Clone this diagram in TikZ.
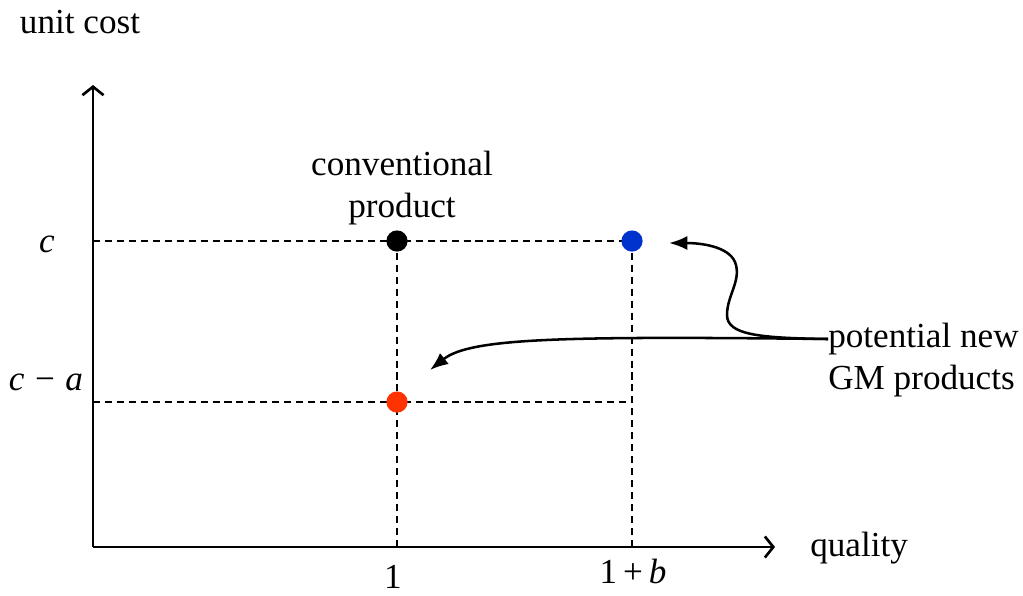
\documentclass[tikz,border=0pt]{standalone}
\usepackage{fontspec}
\setmainfont{Liberation Serif}
\usepackage{tikz}
\usetikzlibrary{arrows.meta,positioning}
\tikzstyle{dot}=[circle, inner sep=0pt, minimum size=0.53cm]
\tikzstyle{guide}=[line width=1.2pt, dash pattern=on 5pt off 3.5pt]
\tikzstyle{axis}=[line width=1.9pt, -{Straight Barb[length=6pt,width=15pt]}]
\tikzstyle{pointer}=[line width=1.8pt, -{Latex[length=13pt,width=10pt]}]
\tikzstyle{lbl}=[font=\fontsize{25}{30}\selectfont, inner sep=0pt]

\begin{document}
\begin{tikzpicture}[x=0.025cm, y=-0.025cm]
        \useasboundingbox (0,0) rectangle (1023,595);

        \coordinate (o) at (93,547);
        \coordinate (ytop) at (93,85);
        \coordinate (xend) at (775,547);
        \coordinate (yc) at (93,241);
        \coordinate (yca) at (93,402);
        \coordinate (x1) at (397,547);
        \coordinate (xb) at (632,547);
        \coordinate (corner) at (632,402);
        \coordinate (pc) at (397,241);
        \coordinate (pb) at (632,241);
        \coordinate (pa) at (397,402);

        % guide lines
        \draw[guide] (yc) to (pb);
        \draw[guide] (yca) to (corner);
        \draw[guide] (pc) to (x1);
        \draw[guide] (pb) to (xb);

        % axes
        \draw[axis] (o) to (ytop);
        \draw[axis] (o) to (xend);

        \node[dot, fill=black] (conv) at (pc) {};
        \node[dot, fill={rgb,255:red,0;green,51;blue,204}] (better) at (pb) {};
        \node[dot, fill={rgb,255:red,255;green,51;blue,0}] (cheaper) at (pa) {};

        \node[lbl] (ylab) at (80,22) {unit cost};
        \node[lbl, anchor=west] (xlab) at (810,548) {quality};
        \node[lbl] (c) at (47,244) {\textit{c}};
        \node[lbl] (ca) at (46,382) {\textit{c}\hspace{0.3em}−\hspace{0.3em}\textit{a}};
        \node[lbl] (one) at (393,577) {1};
        \node[lbl] (oneb) at (633,571) {1\,+\,\textit{b}};
        \node[lbl, align=center] (convlab) at (402,188)
            {conventional\\ product};
        \node[lbl, align=left, anchor=west] (gm) at (828,360)
            {potential new\\ GM products};

        \coordinate (src) at (828,339);
        \coordinate (tipR) at (430,370);
        \coordinate (tipB) at (669,243);

        \draw[pointer] (src) .. controls (560,336) and (470,338) .. (tipR);
        \draw[pointer] (src) .. controls (760,338) and (727,335) .. (727,315)
            .. controls (727,295) and (742,280) .. (735,262)
            .. controls (728,246) and (700,243) .. (tipB);

    \end{tikzpicture}
\end{document}
